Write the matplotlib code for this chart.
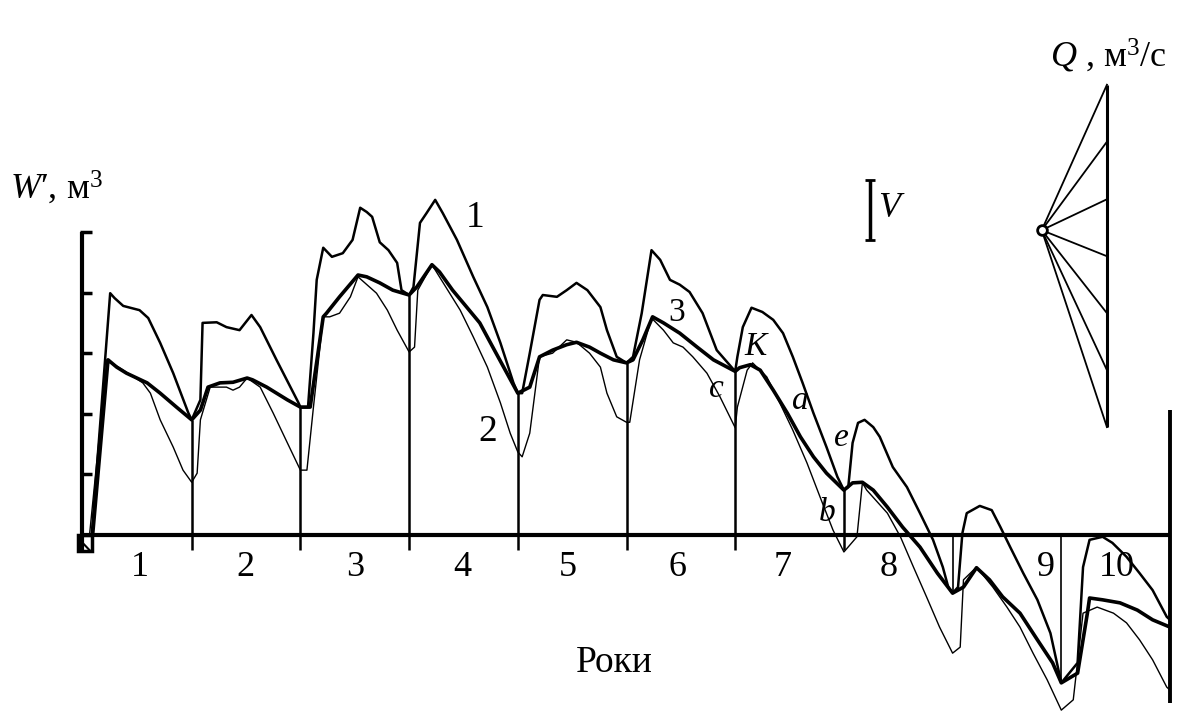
"""
Residual mass curves W' of the reservoir over ten years (curves 1, 2, 3),
with the volume scale bar V and the discharge ray fan Q.
"""

import matplotlib
matplotlib.use("Agg")
import matplotlib.pyplot as plt

plt.rcParams["font.family"] = ["Liberation Serif", "DejaVu Serif"]
plt.rcParams["mathtext.fontset"] = "custom"
plt.rcParams["mathtext.rm"] = "Liberation Serif"
plt.rcParams["mathtext.it"] = "Liberation Serif:italic"

# ---- data (x in years, y in W' scale units) ----
years = [1, 2, 3, 4, 5, 6, 7, 8, 9, 10]
y_ticks = [1, 2, 3, 4, 5]

curve1_x = [0.08, 0.25, 0.29, 0.37, 0.52, 0.60, 0.71, 0.83, 0.97, 1.00,
            1.08, 1.10, 1.23, 1.32, 1.44, 1.55, 1.63, 1.78, 1.98, 2.00,
            2.07, 2.12, 2.15, 2.21, 2.29, 2.39, 2.48, 2.55, 2.61, 2.66,
            2.73, 2.81, 2.89, 2.93, 3.00, 3.04, 3.10, 3.16, 3.24, 3.31,
            3.44, 3.59, 3.72, 3.84, 3.96, 4.00, 4.04, 4.11, 4.20, 4.23,
            4.36, 4.45, 4.54, 4.64, 4.76, 4.82, 4.91, 5.00, 5.06, 5.14,
            5.23, 5.31, 5.40, 5.49, 5.58, 5.70, 5.83, 6.00, 6.02, 6.07,
            6.15, 6.25, 6.35, 6.44, 6.53, 6.62, 6.72, 6.84, 6.94, 7.00,
            7.04, 7.08, 7.13, 7.19, 7.27, 7.33, 7.45, 7.58, 7.70, 7.82,
            7.91, 7.96, 8.00, 8.05, 8.09, 8.13, 8.25, 8.36, 8.44, 8.53,
            8.65, 8.78, 8.90, 9.00, 9.15, 9.20, 9.26, 9.38, 9.47, 9.60,
            9.72, 9.84, 9.97, 10.0]
curve1_y = [0.00, 3.99, 3.91, 3.78, 3.71, 3.58, 3.17, 2.67, 2.01, 1.90,
            2.23, 3.50, 3.51, 3.43, 3.38, 3.63, 3.43, 2.89, 2.19, 2.11,
            2.11, 3.33, 4.21, 4.74, 4.59, 4.65, 4.87, 5.40, 5.33, 5.25,
            4.83, 4.70, 4.49, 4.04, 3.96, 4.09, 5.15, 5.31, 5.53, 5.31,
            4.87, 4.26, 3.76, 3.17, 2.51, 2.34, 2.34, 3.00, 3.88, 3.96,
            3.93, 4.04, 4.16, 4.04, 3.76, 3.38, 2.94, 2.84, 2.94, 3.66,
            4.70, 4.54, 4.21, 4.13, 4.01, 3.66, 3.05, 2.70, 2.94, 3.43,
            3.75, 3.68, 3.55, 3.33, 2.94, 2.51, 2.01, 1.45, 0.96, 0.74,
            0.79, 1.52, 1.85, 1.90, 1.78, 1.62, 1.12, 0.79, 0.36, -0.08,
            -0.53, -0.86, -0.96, -0.86, 0.03, 0.36, 0.48, 0.41, 0.13, -0.20,
            -0.63, -1.07, -1.62, -2.44, -2.11, -0.53, -0.08, -0.03, -0.13, -0.36,
            -0.63, -0.91, -1.35, -1.40]

curve2_x = [0.06, 0.22, 0.37, 0.55, 0.62, 0.71, 0.83, 0.92, 1.00, 1.05,
            1.08, 1.17, 1.32, 1.38, 1.44, 1.51, 1.63, 1.75, 1.88, 2.00,
            2.06, 2.12, 2.21, 2.27, 2.36, 2.46, 2.53, 2.70, 2.80, 2.89,
            3.00, 3.05, 3.08, 3.21, 3.47, 3.59, 3.72, 3.84, 3.93, 4.00,
            4.04, 4.11, 4.20, 4.32, 4.45, 4.54, 4.66, 4.76, 4.82, 4.91,
            5.00, 5.03, 5.12, 5.23, 5.34, 5.43, 5.52, 5.61, 5.74, 5.86,
            6.00, 6.02, 6.11, 6.16, 6.29, 6.41, 6.53, 6.66, 6.78, 6.90,
            7.00, 7.12, 7.17, 7.21, 7.40, 7.52, 7.64, 7.76, 7.88, 8.00,
            8.07, 8.10, 8.22, 8.37, 8.50, 8.62, 8.74, 8.87, 9.00, 9.11,
            9.20, 9.33, 9.48, 9.60, 9.72, 9.84, 9.97, 10.0]
curve2_y = [0.00, 2.89, 2.72, 2.51, 2.34, 1.90, 1.45, 1.07, 0.87, 1.02,
            1.90, 2.44, 2.44, 2.39, 2.44, 2.59, 2.44, 2.01, 1.52, 1.07,
            1.07, 2.11, 3.60, 3.60, 3.66, 3.93, 4.26, 3.99, 3.71, 3.38,
            3.02, 3.10, 4.04, 4.46, 3.71, 3.27, 2.77, 2.18, 1.68, 1.37,
            1.29, 1.68, 2.94, 3.00, 3.22, 3.18, 3.00, 2.77, 2.34, 1.95,
            1.86, 1.86, 2.89, 3.58, 3.38, 3.17, 3.10, 2.94, 2.67, 2.28,
            1.77, 2.11, 2.72, 2.84, 2.61, 2.18, 1.73, 1.19, 0.63, 0.08,
            -0.28, -0.03, 0.86, 0.74, 0.36, -0.03, -0.53, -1.02, -1.52, -1.95,
            -1.85, -0.74, -0.53, -0.86, -1.19, -1.52, -1.95, -2.39, -2.89, -2.72,
            -1.29, -1.19, -1.29, -1.45, -1.73, -2.06, -2.51, -2.56]

curve3_x = [0.09, 0.23, 0.31, 0.40, 0.59, 0.71, 0.86, 1.00, 1.08, 1.15,
            1.26, 1.38, 1.51, 1.56, 1.69, 1.88, 2.00, 2.09, 2.21, 2.24,
            2.36, 2.53, 2.61, 2.73, 2.85, 3.00, 3.07, 3.21, 3.28, 3.40,
            3.53, 3.65, 3.77, 3.90, 4.00, 4.11, 4.20, 4.32, 4.45, 4.54,
            4.66, 4.76, 4.88, 5.00, 5.06, 5.15, 5.24, 5.34, 5.49, 5.65,
            5.80, 6.00, 6.04, 6.14, 6.23, 6.35, 6.48, 6.60, 6.72, 6.84,
            7.00, 7.08, 7.17, 7.27, 7.40, 7.54, 7.70, 7.86, 8.00, 8.10,
            8.22, 8.34, 8.46, 8.62, 8.78, 8.92, 9.00, 9.15, 9.24, 9.26,
            9.38, 9.54, 9.70, 9.84, 10.0]
curve3_y = [0.03, 2.89, 2.77, 2.67, 2.51, 2.34, 2.11, 1.90, 2.06, 2.44,
            2.51, 2.52, 2.59, 2.56, 2.44, 2.23, 2.11, 2.11, 3.60, 3.66,
            3.93, 4.29, 4.26, 4.16, 4.04, 3.96, 4.09, 4.46, 4.34, 4.04,
            3.76, 3.50, 3.10, 2.67, 2.34, 2.44, 2.94, 3.05, 3.14, 3.18,
            3.10, 3.00, 2.89, 2.84, 2.89, 3.22, 3.60, 3.50, 3.33, 3.10,
            2.89, 2.70, 2.76, 2.81, 2.72, 2.39, 2.01, 1.62, 1.29, 1.02,
            0.74, 0.86, 0.87, 0.74, 0.46, 0.13, -0.20, -0.63, -0.96, -0.86,
            -0.54, -0.74, -1.02, -1.29, -1.73, -2.11, -2.44, -2.28, -1.29, -1.04,
            -1.07, -1.12, -1.24, -1.40, -1.52]

# storage at each year boundary, where the curves meet
boundary_w = [1.90, 2.11, 3.96, 2.34, 2.84, 2.70, 0.74, -0.96, -2.44]
last_year_span = [-2.78, 2.06]

# volume scale bar V and the discharge fan (ray ends on the Q scale)
v_bar = [4.87, 5.86]
fan_pole = (8.82, 5.03)
fan_scale_x = 9.42
fan_ends = [7.43, 6.49, 5.54, 4.60, 3.66, 2.72, 1.78]


def draw_chart() -> None:
    fig = plt.figure(figsize=(11.95, 7.18), dpi=100)
    ax = fig.add_axes([0, 0, 1, 1])
    ax.set_xlim(-0.7636, 10.230)
    ax.set_ylim(-3.020, 8.828)
    ax.axis("off")

    k = dict(color="black", solid_joinstyle="round", solid_capstyle="butt")

    # axes of the diagram
    ax.hlines(0, 0, years[-1], color="black", lw=3.0)
    ax.vlines(-0.01, -0.28, y_ticks[-1], color="black", lw=3.0)
    ax.hlines(y_ticks, -0.03, 0.08, color="black", lw=2.5)
    ax.add_patch(plt.Rectangle((-0.045, -0.27), 0.13, 0.27, fill=False,
                               ec="black", lw=2.5))
    ax.plot([-0.03, 0.06], [-0.08, -0.25], color="black", lw=1.5)

    # year boundaries
    for yr, w in zip(years[:-1], boundary_w):
        if w > 0:
            ax.vlines(yr, -0.25, w, color="black", lw=1.8)
        else:
            ax.vlines(yr, 0, w, color="black", lw=1.2)
    ax.vlines(years[-1], last_year_span[0], last_year_span[1],
              color="black", lw=2.8)

    # curves
    ax.plot(curve2_x, curve2_y, lw=1.0, **k)
    ax.plot(curve1_x, curve1_y, lw=1.8, **k)
    ax.plot(curve3_x, curve3_y, lw=2.6, **k)

    # year numbers
    label_x = [0.52, 1.49, 2.50, 3.49, 4.46, 5.47, 6.44, 7.41, 8.86, 9.51]
    for yr, lx in zip(years, label_x):
        ax.text(lx, -0.53, str(yr), fontsize=26, ha="center", va="center")
    ax.text(4.89, -2.11, "Роки", fontsize=27, ha="center", va="center")
    ax.text(-0.67, 5.56, r"$W$′, м$^{3}$", fontsize=26, ha="left",
            va="baseline")

    # curve labels
    for txt, lx, ly, fs in [("1", 3.61, 5.23, 27), ("2", 3.72, 1.70, 27),
                            ("3", 5.46, 3.66, 24)]:
        ax.text(lx, ly, txt, fontsize=fs, ha="center", va="center")
    for txt, lx, ly in [("K", 6.19, 3.10), ("c", 5.83, 2.42),
                        ("a", 6.60, 2.22), ("e", 6.98, 1.60),
                        ("b", 6.85, 0.36)]:
        ax.text(lx, ly, txt, fontsize=24, style="italic", ha="center",
                va="center")

    # volume scale V
    ax.vlines(7.24, v_bar[0], v_bar[1], color="black", lw=2.5)
    ax.hlines(v_bar, 7.19, 7.29, color="black", lw=2.0)
    ax.text(7.42, 5.39, "V", fontsize=26, style="italic", ha="center",
            va="center")

    # discharge fan Q
    ax.vlines(fan_scale_x, fan_ends[-1], fan_ends[0], color="black", lw=2.2)
    for end in fan_ends:
        ax.plot([fan_pole[0], fan_scale_x], [fan_pole[1], end],
                color="black", lw=1.3)
    ax.plot(*fan_pole, "o", ms=7, mfc="white", mec="black", mew=2)
    ax.text(9.43, 7.71, r"$Q$ , м$^{3}$/с", fontsize=26, ha="center",
            va="baseline")

    fig.savefig("out.png", dpi=100)


if __name__ == "__main__":
    draw_chart()
